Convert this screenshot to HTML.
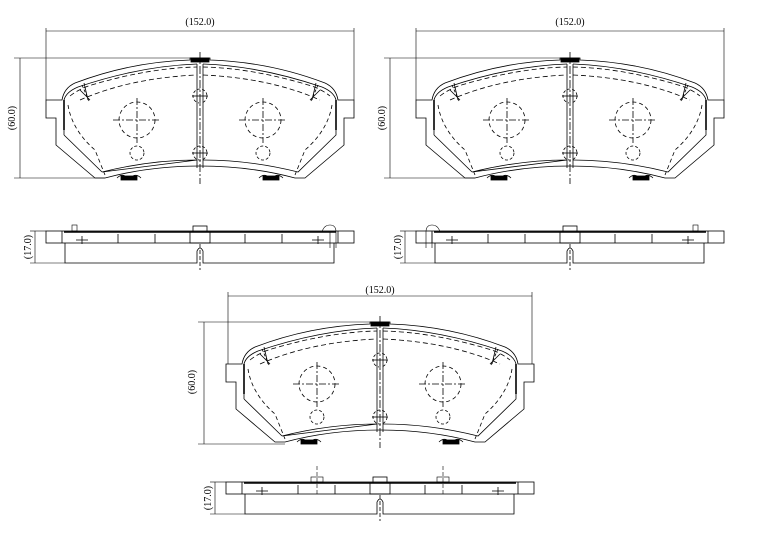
<!DOCTYPE html>
<html><head><style>
html,body{margin:0;padding:0;background:#fff;}
svg{display:block;}
text{font-family:"Liberation Serif",serif;font-size:10px;fill:#000;}
</style></head><body>
<svg width="760" height="533" viewBox="0 0 760 533" xmlns="http://www.w3.org/2000/svg">
<defs>
<g id="pad" fill="none" stroke="#000" stroke-width="0.8">
  <path d="M46,100 L62,100 Q64,88 75,83 Q130,62 190,60 L190,58 L210,58 L210,60 Q270,62 325,83 Q336,88 338,100 L354,100 L354,118 L344,118 L344,145 L305,178 L295,178 Q250,166 200,166 Q150,166 105,178 L95,178 L56,145 L56,118 L46,118 Z"/>
  <path d="M64,135 L64,100 Q66,92 78,87 Q140,66 197,64 M203,64 Q260,66 322,87 Q334,92 336,100 L336,135 L298,172 Q250,160 203,160 M197,160 Q150,160 102,172 Z" />
  <path d="M64,135 L102,172" />
  <path d="M70,96 Q80,88 95,84 Q150,68 197,67 M203,67 Q250,68 305,84 Q320,88 330,96" stroke-dasharray="5,3"/>
  <path d="M80,100 Q130,78 197,75 M203,75 Q270,78 320,100" stroke-dasharray="5,3"/>
  <path d="M68,105 Q72,130 95,150 L105,175 M332,105 Q328,130 305,150 L295,175" stroke-dasharray="4,3"/>
  <line x1="64" y1="100" x2="64" y2="130" stroke-width="1.6"/>
  <line x1="336" y1="100" x2="336" y2="130" stroke-width="1.6"/>
  <line x1="197" y1="64" x2="197" y2="168"/><line x1="203" y1="64" x2="203" y2="168"/>
  <line x1="200" y1="52" x2="200" y2="184" stroke-dasharray="8,2,2,2"/>
  <rect x="191" y="58" width="18" height="4" fill="#000"/>
  <circle cx="200" cy="96" r="7" stroke-dasharray="3,2"/><circle cx="200" cy="153" r="7" stroke-dasharray="3,2"/>
  <line x1="192" y1="96" x2="208" y2="96"/><line x1="192" y1="153" x2="208" y2="153"/>
  <circle cx="137" cy="120" r="18" stroke-dasharray="4,3"/>
  <circle cx="263" cy="120" r="18" stroke-dasharray="4,3"/>
  <path d="M113,120 H161 M137,98 V143 M239,120 H287 M263,98 V143" stroke-dasharray="7,2,2,2"/>
  <circle cx="137" cy="153" r="7" stroke-dasharray="3,2"/><circle cx="263" cy="153" r="7" stroke-dasharray="3,2"/>
  <path d="M80,90 L90,100 M84,83 L88,100 M320,90 L310,100 M316,83 L312,100"/>
  <path d="M82,85 L89,101 M318,85 L311,101" stroke-dasharray="3,2"/>
  <rect x="121" y="176" width="16" height="4" fill="#000"/><rect x="263" y="176" width="16" height="4" fill="#000"/>
  <path d="M117,178 Q121,174 125,176 M133,176 Q137,174 141,178 M259,178 Q263,174 267,176 M275,176 Q279,174 283,178"/>
</g>
<g id="side" fill="none" stroke="#000" stroke-width="0.8">
  <rect x="46" y="231" width="308" height="12"/>
  <path d="M65,243 V263 H197 V251 Q200,245 203,251 V263 H334 V243"/>
  <line x1="200" y1="244" x2="200" y2="270" stroke-dasharray="4,2"/>
  <line x1="62" y1="231" x2="62" y2="243"/><line x1="338" y1="231" x2="338" y2="243"/>
  <line x1="64" y1="232" x2="336" y2="232" stroke-width="1.4"/>
  <path d="M118,234 V243 M155,234 V243 M245,234 V243 M282,234 V243"/>
  <rect x="190" y="232" width="20" height="11"/>
  <rect x="193" y="226" width="14" height="6"/>
  <path d="M76,240 H88 M82,236 V244"/><path d="M312,240 H324 M318,236 V244"/>
</g>
</defs>

<!-- Pad 1 -->
<g>
  <use href="#pad"/>
  <use href="#side"/>
  <g fill="none" stroke="#000" stroke-width="0.6">
    <line x1="46" y1="28" x2="46" y2="100"/><line x1="354" y1="28" x2="354" y2="100"/>
    <line x1="46" y1="31" x2="354" y2="31"/>
    <line x1="14" y1="58" x2="200" y2="58"/><line x1="14" y1="178" x2="105" y2="178"/>
    <line x1="20" y1="58" x2="20" y2="178"/>
    <line x1="30" y1="231" x2="46" y2="231"/><line x1="30" y1="263" x2="65" y2="263"/>
    <line x1="35" y1="231" x2="35" y2="263"/>
    <rect x="72" y="225" width="5" height="6"/>
    <path d="M322,232 Q324,225 330,225 Q336,225 336,232 V248 M330,232 V248"/>
  </g>
  <text x="200" y="25" text-anchor="middle">(152.0)</text>
  <text transform="translate(15,118) rotate(-90)" text-anchor="middle">(60.0)</text>
  <text transform="translate(31,247) rotate(-90)" text-anchor="middle">(17.0)</text>
</g>

<!-- Pad 2 -->
<g transform="translate(370,0)">
  <use href="#pad"/>
  <use href="#side"/>
  <g fill="none" stroke="#000" stroke-width="0.6">
    <line x1="46" y1="28" x2="46" y2="100"/><line x1="354" y1="28" x2="354" y2="100"/>
    <line x1="46" y1="31" x2="354" y2="31"/>
    <line x1="14" y1="58" x2="200" y2="58"/><line x1="14" y1="178" x2="105" y2="178"/>
    <line x1="20" y1="58" x2="20" y2="178"/>
    <line x1="30" y1="231" x2="46" y2="231"/><line x1="30" y1="263" x2="65" y2="263"/>
    <line x1="35" y1="231" x2="35" y2="263"/>
    <rect x="323" y="225" width="5" height="6"/>
    <path d="M70,232 Q68,225 62,225 Q56,225 56,232 V248 M62,232 V248"/>
  </g>
  <text x="200" y="25" text-anchor="middle">(152.0)</text>
  <text transform="translate(15,118) rotate(-90)" text-anchor="middle">(60.0)</text>
  <text transform="translate(31,247) rotate(-90)" text-anchor="middle">(17.0)</text>
</g>

<!-- Pad 3 -->
<g transform="translate(180,264)">
  <use href="#pad"/>
  <g fill="none" stroke="#000" stroke-width="0.6">
    <line x1="48" y1="28" x2="48" y2="100"/><line x1="352" y1="28" x2="352" y2="100"/>
    <line x1="48" y1="32" x2="352" y2="32"/>
    <line x1="18" y1="58" x2="200" y2="58"/><line x1="18" y1="180" x2="105" y2="180"/>
    <line x1="24" y1="58" x2="24" y2="180"/>
  </g>
  <text x="200" y="29" text-anchor="middle">(152.0)</text>
  <text transform="translate(15,118) rotate(-90)" text-anchor="middle">(60.0)</text>
</g>
<g transform="translate(180,251)">
  <use href="#side"/>
  <g fill="none" stroke="#000" stroke-width="0.6">
    <line x1="30" y1="231" x2="46" y2="231"/><line x1="30" y1="263" x2="65" y2="263"/>
    <line x1="35" y1="231" x2="35" y2="263"/>
    <rect x="131" y="226" width="12" height="5"/><rect x="257" y="226" width="12" height="5"/>
    <path d="M137,215 V245 M263,215 V245" stroke-dasharray="4,2"/>
  </g>
  <text transform="translate(31,247) rotate(-90)" text-anchor="middle">(17.0)</text>
</g>
</svg>
</body></html>
